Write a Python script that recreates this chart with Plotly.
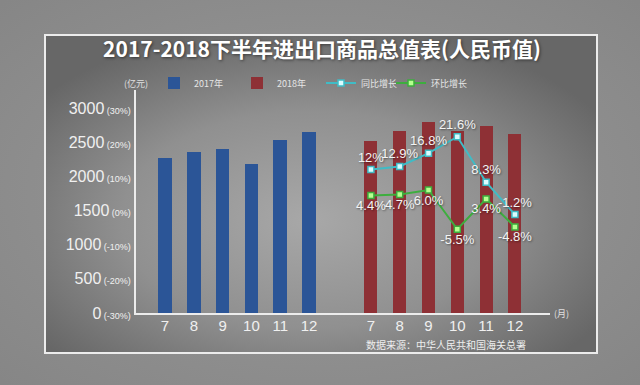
import base64
import plotly.graph_objects as go

# ---------------- data ----------------
months = ["7", "8", "9", "10", "11", "12"]
val_2017 = [2264, 2361, 2400, 2185, 2532, 2653]
val_2018 = [2517, 2659, 2791, 2664, 2737, 2615]
yoy = [12.0, 12.9, 16.8, 21.6, 8.3, -1.2]
mom = [4.4, 4.7, 6.0, -5.5, 3.4, -4.8]
yoy_labels = ["12%", "12.9%", "16.8%", "21.6%", "8.3%", "-1.2%"]
mom_labels = ["4.4%", "4.7%", "6.0%", "-5.5%", "3.4%", "-4.8%"]
y_ticks = [0, 500, 1000, 1500, 2000, 2500, 3000]
pct_ticks = [-30, -20, -10, 0, 10, 20, 30]

# ---------------- geometry ----------------
W, H = 640, 385
ML, MR, MT, MB = 136, 90, 90, 72
PW, PH = W - ML - MR, H - MT - MB
GROUP_OFFSET = 7.15
X_RANGE = [-1.007, 13.368]
Y_RANGE = [0, 3264]
# percent axis: value = 1500 + 50 * pct
Y2_RANGE = [(Y_RANGE[0] - 1500) / 50, (Y_RANGE[1] - 1500) / 50]

x_2017 = list(range(len(months)))
x_2018 = [i + GROUP_OFFSET for i in range(len(months))]

NUM = "Liberation Sans, Arial, sans-serif"
CJK = "Noto Sans CJK SC, sans-serif"
LABEL_SHADOW = "1px 1px 2px rgba(0,0,0,0.45)"

fig = go.Figure()
fig.add_trace(go.Bar(x=x_2017, y=val_2017, name="2017年", width=0.47, legendwidth=38,
                     marker=dict(color="#2b5597", line=dict(width=0))))
fig.add_trace(go.Bar(x=x_2018, y=val_2018, name="2018年", width=0.45, legendwidth=39,
                     marker=dict(color="#8e3035", line=dict(width=0))))
fig.add_trace(go.Scatter(x=x_2018, y=yoy, name="同比增长", yaxis="y2", legendwidth=25,
                         mode="lines+markers+text", text=yoy_labels,
                         textposition="top center", cliponaxis=False,
                         textfont=dict(size=13, color="#f4f4f4", family=NUM, shadow=LABEL_SHADOW),
                         line=dict(color="#3fbcc6", width=2),
                         marker=dict(symbol="square", size=6, color="#dcfcff",
                                     line=dict(color="#3fbcc6", width=1.5))))
fig.add_trace(go.Scatter(x=x_2018, y=mom, name="环比增长", yaxis="y2", legendwidth=40,
                         mode="lines+markers+text", text=mom_labels,
                         textposition="bottom center", cliponaxis=False,
                         textfont=dict(size=13, color="#f4f4f4", family=NUM, shadow=LABEL_SHADOW),
                         line=dict(color="#3dae3e", width=2),
                         marker=dict(symbol="square", size=6, color="#b6ff90",
                                     line=dict(color="#3dae3e", width=1.5))))

tick_text = [f"{v}<span style='font-size:9px'> ({p}%)</span>" for v, p in zip(y_ticks, pct_ticks)]

# background gradient (decoration)
svg = f'''<svg xmlns="http://www.w3.org/2000/svg" width="{W}" height="{H}">
<defs>
<radialGradient id="o" cx="50%" cy="50%" r="70%"><stop offset="0" stop-color="#9a9a9a"/><stop offset="1" stop-color="#868686"/></radialGradient>
<radialGradient id="i" cx="48%" cy="58%" r="62%"><stop offset="0" stop-color="#a8a8a8"/><stop offset="0.55" stop-color="#909090"/><stop offset="1" stop-color="#676767"/></radialGradient>
</defs>
<rect width="{W}" height="{H}" fill="url(#o)"/>
<rect x="45" y="35" width="552" height="318" fill="url(#i)" stroke="#ececec" stroke-width="2"/>
</svg>'''
bg_src = "data:image/svg+xml;base64," + base64.b64encode(svg.encode()).decode()

fig.update_layout(
    width=W, height=H,
    margin=dict(l=ML, r=MR, t=MT, b=MB, pad=0),
    paper_bgcolor="#8e8e8e", plot_bgcolor="rgba(0,0,0,0)",
    showlegend=True, bargap=0,
    title=dict(text="<b>2017-2018下半年进出口商品总值表(人民币值)</b>",
               x=322 / W, xanchor="center", y=1 - 50 / H, yanchor="middle",
               font=dict(size=21, color="#ffffff", family=CJK, shadow="1px 1px 3px rgba(0,0,0,0.5)")),
    legend=dict(orientation="h", x=(154 - ML) / PW, xanchor="left",
                y=(H - MB - 83) / PH, yanchor="middle",
                font=dict(size=9, color="#e6e6e6", family=CJK),
                bgcolor="rgba(0,0,0,0)"),
    xaxis=dict(range=X_RANGE, tickmode="array",
               tickvals=x_2017 + x_2018, ticktext=months + months,
               showline=True, linecolor="#ececec", linewidth=2,
               showgrid=False, zeroline=False, ticks="", ticklabelstandoff=-2,
               tickfont=dict(size=15, color="#f0f0f0", family=NUM)),
    yaxis=dict(range=Y_RANGE, tickmode="array", tickvals=y_ticks, ticktext=tick_text,
               showline=True, linecolor="#ececec", linewidth=2,
               showgrid=False, zeroline=False, ticks="",
               tickfont=dict(size=16, color="#f0f0f0", family=NUM)),
    yaxis2=dict(range=Y2_RANGE, overlaying="y", side="right",
                showticklabels=False, showgrid=False, zeroline=False, showline=False),
    images=[dict(source=bg_src, xref="paper", yref="paper",
                 x=-ML / PW, y=1 + MT / PH, sizex=W / PW, sizey=H / PH,
                 xanchor="left", yanchor="top", sizing="stretch", layer="below")],
    annotations=[
        dict(text="(亿元)", xref="paper", yref="paper", x=0, y=1 + 6 / PH,
             xanchor="center", yanchor="middle", showarrow=False,
             font=dict(size=9, color="#e0e0e0", family=CJK)),
        dict(text="(月)", xref="paper", yref="paper", x=1 + 2 / PW, y=0,
             xanchor="left", yanchor="middle", showarrow=False,
             font=dict(size=9, color="#e0e0e0", family=CJK)),
        dict(text="数据来源：中华人民共和国海关总署", xref="paper", yref="paper",
             x=446 / PW - ML / PW, y=-(344 - (H - MB)) / PH,
             xanchor="center", yanchor="middle", showarrow=False,
             font=dict(size=10, color="#eeeeee", family=CJK)),
    ],
)

fig.write_html("out.html", config={"displayModeBar": False},
               post_script="document.body.style.margin='0';")
